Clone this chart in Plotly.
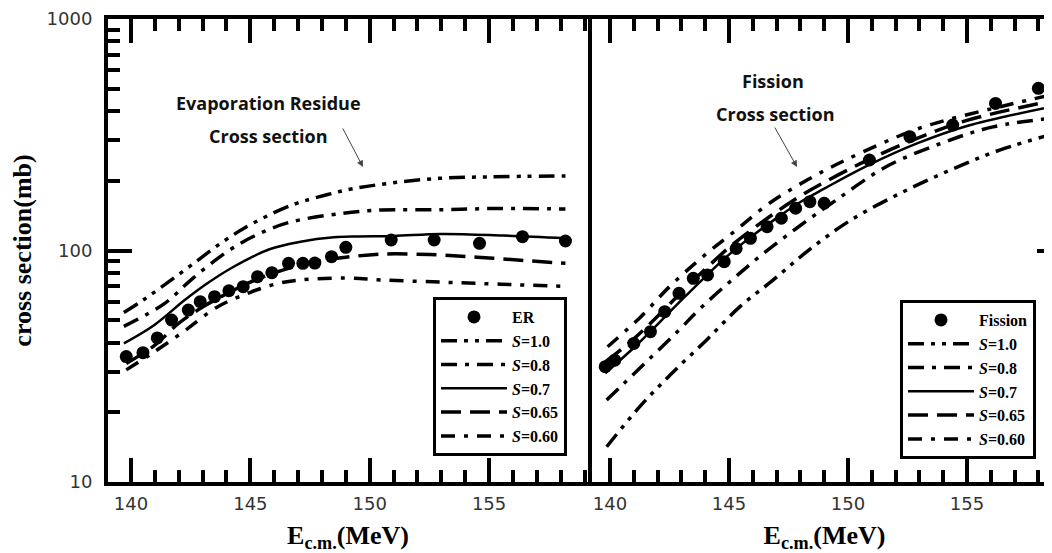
import plotly.graph_objects as go

# ---------------- Evaporation-residue panel ----------------
E_er = [139.8, 140.5, 141.1, 141.7, 142.4, 142.9, 143.5, 144.1, 144.7, 145.3, 145.9,
        146.6, 147.2, 147.7, 148.4, 149.0, 150.9, 152.7, 154.6, 156.4, 158.2]
sig_er = [34.8, 36.2, 41.9, 50.1, 55.3, 60.1, 63.2, 67.0, 69.8, 77.1, 80.2,
          88.0, 88.0, 88.2, 94.0, 103.2, 111.0, 111.0, 107.4, 114.7, 109.9]

er_E_s100 = [139.7, 140.5, 141.4, 142.5, 143.9, 145.1, 146.8, 148.2, 149.3, 150.8, 152.9, 155.0, 158.2]
er_s100 = [54, 61, 71, 86, 110, 131, 158, 174, 185, 195, 205, 208, 210]

er_E_s080 = [139.7, 141.4, 142.6, 144.1, 145.2, 146.6, 148.9, 150.5, 153.0, 155.5, 158.2]
er_s080 = [47, 59, 76, 100, 116, 132, 145, 149.6, 150, 152, 151]

er_E_s070 = [139.7, 140.98, 142.25, 143.2, 144.3, 145.8, 147.1, 148.5, 149.5, 151.0, 153.0, 155.6, 158.2]
er_s070 = [39.7, 47.7, 61.1, 72.2, 85.1, 101.2, 109.1, 114, 115, 115.5, 117.9, 116, 113]

er_E_s065 = [139.8, 141.0, 142.0, 143.0, 144.0, 145.0, 146.0, 147.0, 148.0, 149.0, 150.5, 152.5, 154.5, 156.5, 158.2]
er_s065 = [32.5, 39, 48.5, 57, 65, 73, 80, 86, 90.5, 93.5, 96.5, 96, 93.6, 90.5, 88]

er_E_s060 = [139.8, 140.8, 142.2, 143.6, 145.0, 146.2, 147.1, 149.0, 150.5, 153.0, 155.5, 158.2]
er_s060 = [30.5, 35.5, 44.6, 56.9, 66, 72.2, 74.6, 76, 74.6, 73, 71.5, 70]

# ---------------- Fission panel ----------------
E_fis = [139.8, 140.2, 141.0, 141.7, 142.3, 142.9, 143.5, 144.1, 144.8, 145.3, 145.9,
         146.6, 147.2, 147.8, 148.4, 149.0, 150.9, 152.6, 154.4, 156.2, 158.0]
sig_fis = [31.5, 33.6, 39.7, 44.6, 54.4, 65.3, 75.8, 78.4, 89.5, 102, 112.9,
           126.7, 137.8, 152.2, 162.5, 160, 246, 310, 348, 432, 502]

fi_E_s100 = [139.86, 141.26, 142.6, 144.06, 145.46, 146.86, 148.3, 150.1, 152.2, 154.3, 156.4, 158.9]
fi_s100 = [14.2, 21.2, 29.5, 41.1, 57.2, 74.6, 99.4, 135, 176.7, 222.6, 272, 325]

fi_E_s080 = [139.86, 140.56, 141.6, 142.87, 143.78, 145.2, 146.44, 147.84, 149.5, 151.6, 153.9, 156.1, 158.9]
fi_s080 = [22.6, 26.5, 33.6, 45, 56, 75.8, 97, 124.8, 165, 230, 290, 342, 376]

fi_E_s070 = [139.8, 141.0, 142.0, 143.0, 144.0, 145.0, 146.0, 147.0, 148.0, 149.0, 150.8, 152.9, 155.0, 158.9]
fi_s070 = [29.5, 38, 48, 61, 77, 96, 116, 138, 162, 185, 232, 290, 345, 425]

fi_E_s065 = [139.8, 141.0, 142.0, 143.0, 144.0, 145.0, 146.0, 147.0, 148.0, 149.0, 150.8, 152.9, 155.0, 158.9]
fi_s065 = [33, 41.5, 52, 66, 83, 103, 124, 147, 172, 197, 245, 305, 365, 450]

fi_E_s060 = [139.9, 141.3, 142.5, 143.9, 145.3, 146.7, 148.3, 149.9, 152.6, 154.1, 156.4, 158.9]
fi_s060 = [38.4, 51.8, 69.8, 94, 122.6, 160, 202, 246, 326, 365, 418, 480]

x_ticks = [140, 145, 150, 155]
y_ticks = [10, 100, 1000]
y_minor = [20, 30, 40, 50, 60, 70, 80, 90, 200, 300, 400, 500, 600, 700, 800, 900]

# ---------------- styles ----------------
DASH_100 = "16px,7px,4px,7px,4px,7px"
DASH_080 = "16px,8px,4px,8px"
DASH_065 = "20px,9px"
DASH_060 = "14px,9px,4px,9px"
LW = 3.5

fig = go.Figure()

def add_curve(x, y, name, dash, xa, ya, leg, grp):
    fig.add_trace(go.Scatter(x=x, y=y, mode="lines", name=name,
                             line=dict(color="black", width=LW if dash != "solid" else 2.5,
                                       dash=dash, shape="spline", smoothing=1.0),
                             xaxis=xa, yaxis=ya, legend=leg, legendgroup=grp))

fig.add_trace(go.Scatter(x=E_er, y=sig_er, mode="markers", name="ER",
                         marker=dict(color="black", size=13, symbol="circle"),
                         xaxis="x", yaxis="y", legend="legend", legendgroup="e0"))
add_curve(er_E_s100, er_s100, "<i>S</i>=1.0", DASH_100, "x", "y", "legend", "e1")
add_curve(er_E_s080, er_s080, "<i>S</i>=0.8", DASH_080, "x", "y", "legend", "e2")
add_curve(er_E_s070, er_s070, "<i>S</i>=0.7", "solid", "x", "y", "legend", "e3")
add_curve(er_E_s065, er_s065, "<i>S</i>=0.65", DASH_065, "x", "y", "legend", "e4")
add_curve(er_E_s060, er_s060, "<i>S</i>=0.60", DASH_060, "x", "y", "legend", "e5")

fig.add_trace(go.Scatter(x=E_fis, y=sig_fis, mode="markers", name="Fission",
                         marker=dict(color="black", size=13, symbol="circle"),
                         xaxis="x2", yaxis="y2", legend="legend2", legendgroup="f0"))
add_curve(fi_E_s100, fi_s100, "<i>S</i>=1.0", DASH_100, "x2", "y2", "legend2", "f1")
add_curve(fi_E_s080, fi_s080, "<i>S</i>=0.8", DASH_080, "x2", "y2", "legend2", "f2")
add_curve(fi_E_s070, fi_s070, "<i>S</i>=0.7", "solid", "x2", "y2", "legend2", "f3")
add_curve(fi_E_s065, fi_s065, "<i>S</i>=0.65", DASH_065, "x2", "y2", "legend2", "f4")
add_curve(fi_E_s060, fi_s060, "<i>S</i>=0.60", DASH_060, "x2", "y2", "legend2", "f5")

tickfont = dict(family="DejaVu Sans", size=18, color="#333")
titlefont = dict(family="Liberation Serif", size=26, color="black")

def xaxis_style(domain, rng, anchor):
    return dict(domain=domain, range=rng, anchor=anchor,
                showline=True, linewidth=4, linecolor="black", mirror="ticks",
                ticks="inside", ticklen=24, tickwidth=3.5, tickcolor="black",
                tickmode="array", tickvals=x_ticks, ticktext=[str(v) for v in x_ticks],
                tickfont=tickfont, ticklabelstandoff=2,
                minor=dict(tick0=140, dtick=1, ticks="inside", ticklen=12,
                           tickwidth=3.5, tickcolor="black", showgrid=False),
                showgrid=False, zeroline=False,
                title=dict(text="<b>E<sub>c.m.</sub>(MeV)</b>", font=titlefont, standoff=14))

# the page body adds an 8 px offset; the plot area is laid out so that the
# right panel runs slightly past the visible window, as in the original figure
PW = 953.0
D = 480 / PW
fig.update_layout(
    width=1053, height=545,
    margin=dict(l=100, r=0, t=11, b=71),
    paper_bgcolor="white", plot_bgcolor="white",
    showlegend=True,
    xaxis=xaxis_style([0, D], [139.036, 159.145], "y"),
    xaxis2=xaxis_style([D, 1], [139.076, 158.95], "y2"),
    yaxis=dict(type="log", range=[1, 3], anchor="x",
               showline=True, linewidth=4, linecolor="black", mirror=True,
               ticks="inside", ticklen=24, tickwidth=3.5, tickcolor="black",
               tickmode="array", tickvals=y_ticks, ticktext=[str(v) for v in y_ticks],
               tickfont=tickfont, ticklabelstandoff=8,
               minor=dict(tickmode="array", tickvals=y_minor, ticks="inside", ticklen=12,
                          tickwidth=3.5, tickcolor="black", showgrid=False),
               showgrid=False, zeroline=False,
               title=dict(text="<b>cross section(mb)</b>", font=titlefont, standoff=9)),
    yaxis2=dict(type="log", range=[1, 3], anchor="x2", side="right",
                showline=True, linewidth=4, linecolor="black",
                ticks="inside", ticklen=24, tickwidth=3.5, tickcolor="black",
                tickmode="array", tickvals=y_ticks, showticklabels=False,
                minor=dict(tickmode="array", tickvals=y_minor, ticks="inside", ticklen=12,
                           tickwidth=3.5, tickcolor="black", showgrid=False),
                showgrid=False, zeroline=False),
    legend=dict(x=(433 - 108) / PW, y=(482 - 297) / 463, xanchor="left", yanchor="top",
                bgcolor="white", bordercolor="black", borderwidth=3,
                font=dict(family="Liberation Serif", size=16, color="black", weight="bold"),
                itemwidth=66, tracegroupgap=0),
    legend2=dict(x=(900 - 108) / PW, y=(482 - 300) / 463, xanchor="left", yanchor="top",
                 bgcolor="white", bordercolor="black", borderwidth=3,
                 font=dict(family="Liberation Serif", size=16, color="black", weight="bold"),
                 itemwidth=66, tracegroupgap=0),
)

def P(px, py):
    return (px - 108) / PW, (482 - py) / 463.0

afont = dict(family="Open Sans", size=18, color="#111", weight="bold")
annots = []
for txt, (cx, cy) in [("Evaporation Residue", (268, 103)), ("Cross section", (268, 136)),
                      ("Fission", (773, 81)), ("Cross section", (775, 114))]:
    x, y = P(cx, cy)
    annots.append(dict(text=txt, x=x, y=y, xref="paper", yref="paper", showarrow=False,
                       font=afont, xanchor="center", yanchor="middle"))
for (tx, ty), (hx, hy) in [((342, 127), (363, 167)), ((774, 126), (797, 167))]:
    x, y = P(hx, hy)
    annots.append(dict(text="", x=x, y=y, xref="paper", yref="paper", showarrow=True,
                       ax=tx - hx, ay=ty - hy, arrowhead=2, arrowsize=1.3, arrowwidth=1,
                       arrowcolor="#444"))
fig.update_layout(annotations=annots)

fig.write_html("out.html")
